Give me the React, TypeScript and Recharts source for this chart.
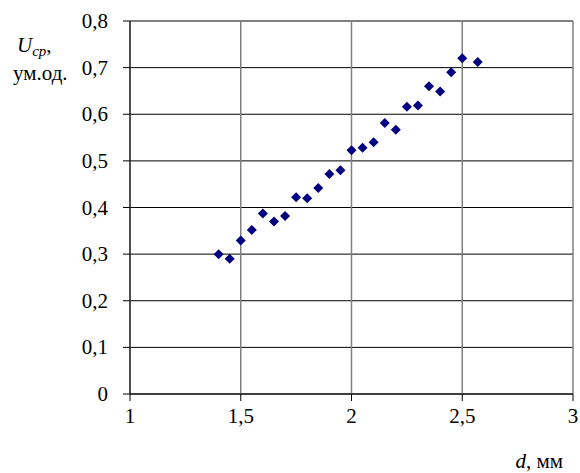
import { ScatterChart, Scatter, XAxis, YAxis, CartesianGrid, Label } from "recharts";

// d, мм
const dValues = [
  1.4, 1.45, 1.5, 1.55, 1.6, 1.65, 1.7, 1.75, 1.8, 1.85, 1.9, 1.95, 2.0, 2.05, 2.1, 2.15, 2.2, 2.25, 2.3,
  2.35, 2.4, 2.45, 2.5, 2.57,
];
// U_cp, ум.од.
const uValues = [
  0.3, 0.29, 0.329, 0.352, 0.387, 0.37, 0.382, 0.422, 0.42, 0.442, 0.472, 0.48, 0.523, 0.528, 0.54, 0.581,
  0.567, 0.616, 0.619, 0.66, 0.649, 0.69, 0.72, 0.712,
];
const xTicks = [1, 1.5, 2, 2.5, 3];
const yTicks = [0, 0.1, 0.2, 0.3, 0.4, 0.5, 0.6, 0.7, 0.8];

const data = dValues.map((d, i) => ({ d, u: uValues[i] }));

const font = "Liberation Serif";
const comma = (v: number) => String(v).replace(".", ",");

const Diamond = (props: any) => {
  const { cx, cy } = props;
  const r = 5;
  return (
    <path
      d={`M${cx},${cy - r}L${cx + r},${cy}L${cx},${cy + r}L${cx - r},${cy}Z`}
      fill="#000080"
    />
  );
};

const XTick = (props: any) => {
  const { x, y, payload } = props;
  return (
    <text x={x} y={y + 20} textAnchor="middle" fontFamily={font} fontSize={21} fill="#000">
      {comma(payload.value)}
    </text>
  );
};

const YTick = (props: any) => {
  const { x, y, payload } = props;
  return (
    <text x={x - 13} y={y + 7} textAnchor="end" fontFamily={font} fontSize={21} fill="#000">
      {comma(payload.value)}
    </text>
  );
};

const App = () => {
  return (
    <div style={{ position: "absolute", left: 0, top: 0, width: 580, height: 473, background: "#fff" }}>
      <ScatterChart width={580} height={473} margin={{ top: 21, right: 7, bottom: 0, left: 0 }}>
        <CartesianGrid vertical={false} stroke="#000" strokeWidth={1} />
        <CartesianGrid horizontal={false} stroke="#808080" strokeWidth={1.5} />
        <XAxis
          type="number"
          dataKey="d"
          domain={[1, 3]}
          ticks={xTicks}
          height={79}
          tickSize={7}
          stroke="#000"
          tick={<XTick />}
        >
          <Label
            content={({ viewBox }: any) => (
              <text
                x={viewBox.x + viewBox.width - 10}
                y={viewBox.y + 74}
                textAnchor="end"
                fontFamily={font}
                fontSize={21}
                fill="#000"
              >
                <tspan fontStyle="italic">d</tspan>
                <tspan>, мм</tspan>
              </text>
            )}
          />
        </XAxis>
        <YAxis
          type="number"
          dataKey="u"
          domain={[0, 0.8]}
          ticks={yTicks}
          width={130}
          tickSize={7}
          stroke="#000"
          tick={<YTick />}
        >
          <Label
            content={() => (
              <g fontFamily={font} fontSize={21} fill="#000">
                <text x={17} y={52}>
                  <tspan fontStyle="italic">U</tspan>
                  <tspan fontStyle="italic" fontSize={15} dy={4}>
                    cp
                  </tspan>
                  <tspan dy={-4}>,</tspan>
                </text>
                <text x={13} y={80}>
                  ум.од.
                </text>
              </g>
            )}
          />
        </YAxis>
        <Scatter data={data} shape={Diamond} isAnimationActive={false} />
      </ScatterChart>
    </div>
  );
};

export default App;
